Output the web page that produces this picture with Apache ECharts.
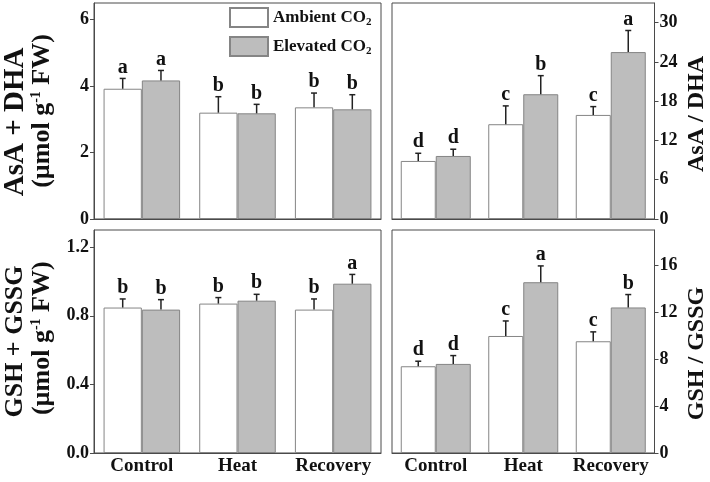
<!DOCTYPE html>
<html>
<head>
<meta charset="utf-8">
<script src="https://cdn.jsdelivr.net/npm/echarts@6/dist/echarts.min.js"></script>
<style>
html, body { margin: 0; padding: 0; background: #fff; }
#container { width: 710px; height: 482px; }
</style>
</head>
<body>
<div id="container"></div>
<script>
var categories = ['Control', 'Heat', 'Recovery'];

// AsA + DHA (umol g-1 FW)
var asaAmb = [3.92, 3.20, 3.36];
var asaAmbErr = [0.31, 0.48, 0.43];
var asaElev = [4.17, 3.18, 3.30];
var asaElevErr = [0.30, 0.27, 0.44];
var asaAmbLetters = ['a', 'b', 'b'];
var asaElevLetters = ['a', 'b', 'b'];

// AsA / DHA
var asaRatioAmb = [8.87, 14.48, 15.9];
var asaRatioAmbErr = [1.17, 2.8, 1.27];
var asaRatioElev = [9.63, 19.06, 25.5];
var asaRatioElevErr = [1.03, 2.84, 3.3];
var asaRatioAmbLetters = ['d', 'c', 'c'];
var asaRatioElevLetters = ['d', 'b', 'a'];

// GSH + GSSG (umol g-1 FW)
var gshAmb = [0.848, 0.871, 0.836];
var gshAmbErr = [0.05, 0.035, 0.062];
var gshElev = [0.836, 0.888, 0.987];
var gshElevErr = [0.058, 0.037, 0.054];
var gshAmbLetters = ['b', 'b', 'b'];
var gshElevLetters = ['b', 'b', 'a'];

// GSH / GSSG
var gshRatioAmb = [7.39, 9.97, 9.52];
var gshRatioAmbErr = [0.43, 1.28, 0.8];
var gshRatioElev = [7.59, 14.55, 12.4];
var gshRatioElevErr = [0.71, 1.39, 1.1];
var gshRatioAmbLetters = ['d', 'c', 'c'];
var gshRatioElevLetters = ['d', 'a', 'b'];

var FONT = 'Liberation Serif';
var frameColor = '#4a4a4a';

function errData(vals, errs) {
    return vals.map(function (v, i) { return [i, v, errs[i]]; });
}

// error bar (upper only) + significance letter, shifted onto its bar
function errBar(side, letters) {
    return function (params, api) {
        var i = api.value(0), v = api.value(1), e = api.value(2);
        var band = api.size([1, 0])[0];
        var x = api.coord([i, v])[0] + side * band * 0.2;
        var y0 = api.coord([i, v])[1];
        var y1 = api.coord([i, v + e])[1];
        return {
            type: 'group',
            children: [
                { type: 'line', shape: { x1: x, y1: y0, x2: x, y2: y1 }, style: { stroke: '#222', lineWidth: 1.5 } },
                { type: 'line', shape: { x1: x - 3, y1: y1, x2: x + 3, y2: y1 }, style: { stroke: '#222', lineWidth: 1.5 } },
                { type: 'text', x: x, y: y1 - 1, style: {
                    text: letters[params.dataIndex], font: 'bold 20px "' + FONT + '"',
                    fill: '#111', align: 'center', verticalAlign: 'bottom' } }
            ]
        };
    };
}

function nameStyle(size1, size2) {
    return {
        fontFamily: FONT, fontWeight: 'bold', fontSize: size1, color: '#111',
        rich: {
            t: { fontFamily: FONT, fontWeight: 'bold', fontSize: size1, color: '#111', lineHeight: 27 },
            u: { fontFamily: FONT, fontWeight: 'bold', fontSize: size2, color: '#111', lineHeight: 27 },
            sup: { fontFamily: FONT, fontWeight: 'bold', fontSize: 14, color: '#111', verticalAlign: 'top', lineHeight: 27 },
            // invisible spacer used to nudge a line along the axis
            pad: { fontSize: size1, lineHeight: 27, color: 'rgba(0,0,0,0)' }
        }
    };
}

function yAxis(gi, pos, max, interval, digits, name, gap, size1, size2) {
    return {
        type: 'value', gridIndex: gi, position: pos, min: 0, max: max, interval: interval,
        splitLine: { show: false },
        axisLine: { show: true, lineStyle: { color: frameColor, width: 1 } },
        axisTick: { show: true, length: 4, lineStyle: { color: frameColor } },
        axisLabel: {
            showMaxLabel: false, margin: 5, color: '#111', fontFamily: FONT, fontWeight: 'bold', fontSize: 18,
            formatter: function (v) { return v.toFixed(digits); }
        },
        name: name, nameLocation: 'middle', nameGap: gap, nameMoveOverlap: false,
        nameTextStyle: nameStyle(size1, size2)
    };
}

function xAxis(gi, showLabel) {
    return {
        type: 'category', gridIndex: gi, data: categories,
        axisTick: { show: false },
        axisLine: { show: true, lineStyle: { color: frameColor, width: 1 } },
        axisLabel: { show: showLabel, interval: 0, margin: 4, color: '#111', fontFamily: FONT, fontWeight: 'bold', fontSize: 19 }
    };
}

function barPair(gi, amb, elev) {
    return [
        { name: 'Ambient', type: 'bar', xAxisIndex: gi, yAxisIndex: gi, data: amb,
          barWidth: '40%', barGap: '0%',
          itemStyle: { color: '#ffffff', borderColor: '#858585', borderWidth: 1 } },
        { name: 'Elevated', type: 'bar', xAxisIndex: gi, yAxisIndex: gi, data: elev,
          barWidth: '40%', barGap: '0%',
          itemStyle: { color: '#bdbdbd', borderColor: '#858585', borderWidth: 1 } }
    ];
}

function errPair(gi, amb, ambErr, ambL, elev, elevErr, elevL) {
    return [
        { type: 'custom', xAxisIndex: gi, yAxisIndex: gi, z: 5, clip: false,
          data: errData(amb, ambErr), renderItem: errBar(-1, ambL) },
        { type: 'custom', xAxisIndex: gi, yAxisIndex: gi, z: 5, clip: false,
          data: errData(elev, elevErr), renderItem: errBar(1, elevL) }
    ];
}

var unitName = '{u|(µmol g}{sup|-1}{u| FW)}';

var myChart = echarts.init(document.getElementById('container'));
var option = {
    animation: false,
    textStyle: { fontFamily: FONT },
    grid: [
        { left: 94, top: 3, width: 287, height: 216, show: true, borderColor: frameColor, borderWidth: 1 },
        { left: 392, top: 3, width: 266, height: 216, show: true, borderColor: frameColor, borderWidth: 1 },
        { left: 94, top: 230, width: 287, height: 223, show: true, borderColor: frameColor, borderWidth: 1 },
        { left: 392, top: 230, width: 266, height: 223, show: true, borderColor: frameColor, borderWidth: 1 }
    ],
    legend: {
        data: ['Ambient', 'Elevated'], orient: 'vertical', left: 229, top: 7, padding: 0,
        itemWidth: 38, itemHeight: 19, itemGap: 8, icon: 'rect',
        formatter: function (n) { return n === 'Ambient' ? '{a|Ambient CO}{s|2}' : '{a|Elevated CO}{s|2}'; },
        textStyle: {
            rich: {
                a: { fontFamily: FONT, fontWeight: 'bold', fontSize: 17, color: '#111', lineHeight: 20 },
                s: { fontFamily: FONT, fontWeight: 'bold', fontSize: 11, color: '#111', verticalAlign: 'bottom', lineHeight: 20 }
            }
        }
    },
    xAxis: [xAxis(0, false), xAxis(1, false), xAxis(2, true), xAxis(3, true)],
    yAxis: [
        yAxis(0, 'left', 6.5, 2, 0, '{t|AsA + DHA}{pad|   }\n' + unitName, 38, 29, 26),
        yAxis(1, 'right', 33, 6, 0, '{t|AsA / DHA}{pad| }', 29, 24, 24),
        yAxis(2, 'left', 1.3, 0.4, 1, '{t|GSH + GSSG}\n{pad| }' + unitName, 38, 26, 26),
        yAxis(3, 'right', 19, 4, 0, '{t|GSH / GSSG}{pad|    }', 29, 24, 24)
    ],
    series: [].concat(
        barPair(0, asaAmb, asaElev),
        errPair(0, asaAmb, asaAmbErr, asaAmbLetters, asaElev, asaElevErr, asaElevLetters),
        barPair(1, asaRatioAmb, asaRatioElev),
        errPair(1, asaRatioAmb, asaRatioAmbErr, asaRatioAmbLetters, asaRatioElev, asaRatioElevErr, asaRatioElevLetters),
        barPair(2, gshAmb, gshElev),
        errPair(2, gshAmb, gshAmbErr, gshAmbLetters, gshElev, gshElevErr, gshElevLetters),
        barPair(3, gshRatioAmb, gshRatioElev),
        errPair(3, gshRatioAmb, gshRatioAmbErr, gshRatioAmbLetters, gshRatioElev, gshRatioElevErr, gshRatioElevLetters)
    )
};
myChart.setOption(option);
</script>
</body>
</html>
